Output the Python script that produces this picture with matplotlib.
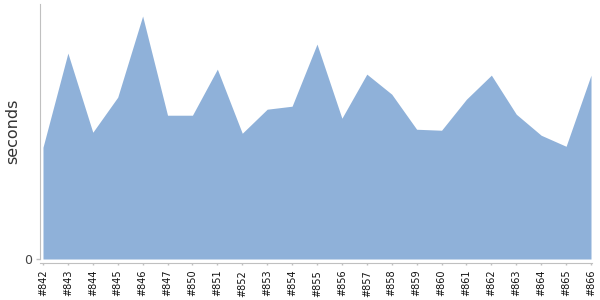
import matplotlib
matplotlib.use("Agg")
import matplotlib.pyplot as plt
import numpy as np

builds = ["#842", "#843", "#844", "#845", "#846", "#847", "#850", "#851", "#852",
          "#853", "#854", "#855", "#856", "#857", "#858", "#859", "#860", "#861",
          "#862", "#863", "#864", "#865", "#866"]
seconds = [111.5, 205.5, 126.5, 161.5, 242.5, 143.5, 143.5, 189.5, 125.5,
           149.5, 152.5, 214.5, 140.5, 184.5, 164.5, 129.5, 128.5, 159.5,
           183.5, 144.5, 123.5, 112.5, 183.5]

fig = plt.figure(figsize=(6, 3), dpi=100)
ax = fig.add_axes([40/600, 1-259/300, 552/600, 255/300])

x = np.arange(len(builds))
ax.fill_between(x, 0, seconds, color="#8fb1d9", linewidth=0)
ax.set_xlim(-0.12, len(builds)-1+0.04)
ax.set_ylim(0, 254.5)

ax.set_yticks([0])
ax.set_yticklabels(["0"], fontsize=9)
ax.set_ylabel("seconds", fontsize=11.5, color="#333333")
ax.yaxis.set_label_coords(-20/552, 0.5)

for s in ["top", "right"]:
    ax.spines[s].set_visible(False)
ax.spines["left"].set_color("#c0c0c0")
ax.spines["bottom"].set_color("#c0c0c0")
ax.spines["bottom"].set_position(("outward", 2.7))
ax.tick_params(axis="x", colors="#c0c0c0", length=1.6, width=1, pad=3.5,
               labelcolor="#111111")
ax.tick_params(axis="y", colors="#c0c0c0", length=3, width=1, pad=3,
               labelcolor="#444444")
ax.set_xticks(x)
ax.set_xticklabels(builds, fontsize=7, rotation=90, va="top", ha="center",
                   rotation_mode="default")

fig.savefig("out.png", dpi=100)
